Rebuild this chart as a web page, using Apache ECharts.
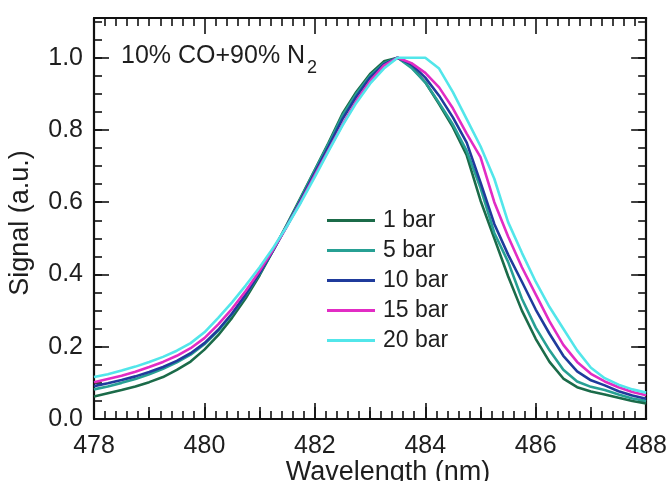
<!DOCTYPE html>
<html><head><meta charset="utf-8">
<script src="https://cdn.jsdelivr.net/npm/echarts@6/dist/echarts.min.js"></script>
<style>html,body{margin:0;padding:0;background:#fff}#c{width:670px;height:481px}</style>
</head><body><div id="c"></div>
<script>
const wavelength = [478.00,478.25,478.50,478.75,479.00,479.25,479.50,479.75,480.00,480.25,480.50,480.75,481.00,481.25,481.50,481.75,482.00,482.25,482.50,482.75,483.00,483.25,483.50,483.75,484.00,484.25,484.50,484.75,485.00,485.25,485.50,485.75,486.00,486.25,486.50,486.75,487.00,487.25,487.50,487.75,488.00];
const bar1 = [0.062,0.071,0.080,0.090,0.102,0.116,0.136,0.159,0.192,0.232,0.280,0.335,0.398,0.468,0.540,0.615,0.690,0.765,0.845,0.905,0.955,0.990,1.000,0.975,0.932,0.872,0.808,0.730,0.605,0.500,0.395,0.300,0.222,0.158,0.112,0.088,0.076,0.068,0.059,0.050,0.043];
const bar5 = [0.082,0.090,0.100,0.111,0.124,0.139,0.157,0.178,0.207,0.244,0.290,0.343,0.402,0.468,0.538,0.612,0.688,0.762,0.840,0.900,0.950,0.985,1.000,0.972,0.932,0.875,0.815,0.742,0.640,0.515,0.435,0.333,0.253,0.190,0.136,0.104,0.089,0.080,0.068,0.057,0.050];
const bar10 = [0.091,0.099,0.108,0.118,0.130,0.144,0.161,0.182,0.210,0.247,0.292,0.345,0.404,0.468,0.536,0.608,0.682,0.755,0.830,0.892,0.945,0.982,1.000,0.982,0.945,0.895,0.835,0.765,0.655,0.540,0.455,0.380,0.303,0.236,0.175,0.132,0.107,0.093,0.077,0.065,0.056];
const bar15 = [0.102,0.111,0.120,0.131,0.144,0.158,0.175,0.196,0.224,0.262,0.305,0.355,0.410,0.470,0.535,0.603,0.675,0.745,0.815,0.880,0.935,0.978,1.000,0.985,0.958,0.918,0.860,0.790,0.725,0.600,0.505,0.420,0.345,0.270,0.205,0.158,0.125,0.104,0.088,0.075,0.066];
const bar20 = [0.116,0.124,0.134,0.145,0.158,0.172,0.189,0.210,0.240,0.280,0.323,0.370,0.420,0.475,0.535,0.600,0.670,0.742,0.812,0.875,0.928,0.970,1.000,1.000,1.000,0.970,0.905,0.830,0.755,0.665,0.545,0.460,0.380,0.310,0.250,0.190,0.142,0.113,0.095,0.082,0.073];
const seriesNames = ['1 bar','5 bar','10 bar','15 bar','20 bar'];
const seriesValues = [bar1, bar5, bar10, bar15, bar20];
const seriesColors = ['#1b6b49','#27a094','#1f3b9c','#e22cc4','#52e6ea'];
const xTicks = [478,480,482,484,486,488];
const yTicks = [0.0,0.2,0.4,0.6,0.8,1.0];
const yMax = 1.11;
const annotation = '10% CO+90% N';
const annotationSub = '2';
const xTitle = 'Wavelength (nm)';
const yTitle = 'Signal (a.u.)';

const FONT = 'Liberation Sans, Arial, sans-serif';
const TXT = '#1e1e1e';
const xMin = xTicks[0], xMax = xTicks[xTicks.length-1], xInt = xTicks[1]-xTicks[0];
const yMin = yTicks[0], yInt = yTicks[1]-yTicks[0];
const tickStyle = {color:'#111', width:1.6};
const lineStyleAx = {color:'#111', width:2.2};

function xAx(pos, interval, len, opts) {
  return Object.assign({
    type:'value', position:pos, min:xMin, max:xMax, interval:interval,
    axisLine:{show:false, onZero:false}, splitLine:{show:false},
    axisTick:{show:true, inside:true, length:len, lineStyle:tickStyle},
    axisLabel:{show:false}
  }, opts||{});
}
function yAx(pos, interval, len, opts) {
  return Object.assign({
    type:'value', position:pos, min:yMin, max:yMax, interval:interval,
    axisLine:{show:false, onZero:false}, splitLine:{show:false},
    axisTick:{show:true, inside:true, length:len, lineStyle:tickStyle},
    axisLabel:{show:false}
  }, opts||{});
}

const chart = echarts.init(document.getElementById('c'), null, {renderer:'canvas'});
chart.setOption({
  animation:false,
  backgroundColor:'#fff',
  grid:{left:94, right:23, top:18, bottom:62},
  xAxis:[
    xAx('bottom', xInt, 16, {
      axisLine:{show:true, onZero:false, lineStyle:lineStyleAx},
      minorTick:{show:true, splitNumber:10, length:8, lineStyle:tickStyle},
      axisLabel:{show:true, margin:15, fontSize:25, color:TXT, fontFamily:FONT,
        formatter:v => xTicks.indexOf(v) >= 0 ? String(v) : ''}
    }),
    xAx('bottom', 1, 12),
    xAx('top', xInt, 16, {
      axisLine:{show:true, onZero:false, lineStyle:lineStyleAx},
      minorTick:{show:true, splitNumber:10, length:8, lineStyle:tickStyle}
    })
  ],
  yAxis:[
    yAx('left', yInt, 15, {
      axisLine:{show:true, onZero:false, lineStyle:lineStyleAx},
      axisLabel:{show:true, margin:11, fontSize:25, color:TXT, fontFamily:FONT, showMaxLabel:false,
        formatter:v => yTicks.some(t => Math.abs(t-v) < 1e-6) ? v.toFixed(1) : ''}
    }),
    yAx('left', 0.05, 8),
    yAx('right', yInt, 15, {axisLine:{show:true, onZero:false, lineStyle:lineStyleAx}}),
    yAx('right', 0.05, 8)
  ],
  legend:{
    orient:'vertical', left:322, top:204, itemWidth:48, itemHeight:3, itemGap:7,
    icon:'rect', data:seriesNames,
    textStyle:{fontSize:23, color:TXT, fontFamily:FONT, padding:[0,0,0,3]}
  },
  graphic:[
    {type:'text', left:121, top:44, style:{
      text:'{a|'+annotation+'}{b|'+annotationSub+'}',
      rich:{
        a:{fontSize:25, fontFamily:FONT, fill:TXT, lineHeight:28, verticalAlign:'top'},
        b:{fontSize:18, fontFamily:FONT, fill:TXT, lineHeight:18, verticalAlign:'top', padding:[15,0,0,2]}
      }}},
    {type:'text', x:388, y:473, style:{text:xTitle, fontSize:27, fontFamily:FONT, fill:TXT, align:'center', verticalAlign:'middle'}},
    {type:'text', x:21, y:223, rotation:Math.PI/2, style:{text:yTitle, fontSize:27, fontFamily:FONT, fill:TXT, align:'center', verticalAlign:'middle'}}
  ],
  series: seriesNames.map((name, i) => ({
    name:name, type:'line', xAxisIndex:0, yAxisIndex:0,
    showSymbol:false, symbol:'none', smooth:false,
    lineStyle:{color:seriesColors[i], width:2.6},
    itemStyle:{color:seriesColors[i]},
    data: wavelength.map((w, j) => [w, seriesValues[i][j]])
  }))
});
</script></body></html>
